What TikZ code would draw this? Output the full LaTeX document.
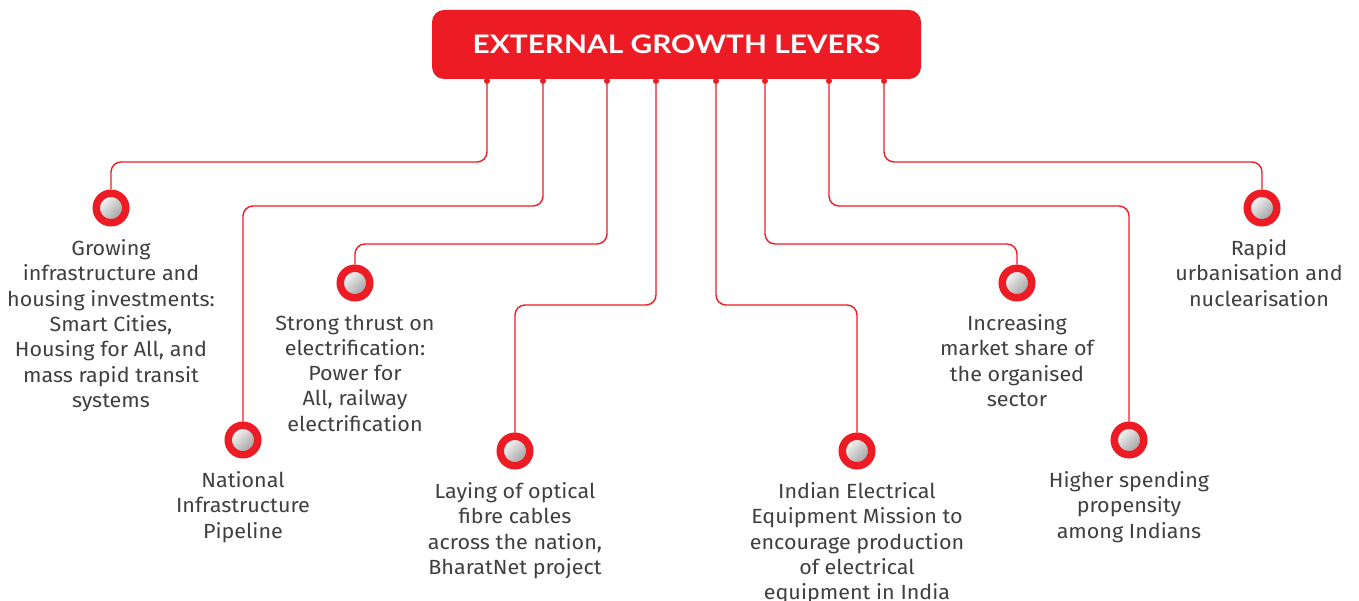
\documentclass[tikz,border=0pt]{standalone}
\usepackage{fontspec}
\setmainfont{Fira Sans}[FakeStretch=1.05]
\newfontfamily\titlefont{Lato}[FakeStretch=1.17]
\usetikzlibrary{positioning}

\definecolor{levred}{HTML}{ED1C24}
\definecolor{levgrey}{HTML}{3F3F3F}

\tikzset{
  lever/.style={circle, draw=levred, line width=7.5pt, minimum size=29.5pt, inner sep=0pt,
    top color=white, bottom color=gray!80, shading angle=45},
  tapdot/.style={circle, fill=levred, minimum size=6pt, inner sep=0pt},
  levtext/.style={align=center, text=levgrey, inner sep=0pt, font=\fontsize{20.5}{25.3}\selectfont},
  wire/.style={draw=levred, line width=1.4pt, rounded corners=10pt}
}

\begin{document}
\begin{tikzpicture}[x=1pt, y=-1pt]
\useasboundingbox (0,0) rectangle (1359,601);

\node[fill=levred, rounded corners=12pt, minimum width=489pt, minimum height=69pt, text=white,
  font=\titlefont\bfseries\fontsize{25.5}{30}\selectfont] (title) at (676.5,44.5) {EXTERNAL GROWTH LEVERS};

% taps on the bottom of the title box
\node[tapdot] (d1) at (487,81) {};
\node[tapdot] (d2) at (543,81) {};
\node[tapdot] (d3) at (607,81) {};
\node[tapdot] (d4) at (656,81) {};
\node[tapdot] (d5) at (716,81) {};
\node[tapdot] (d6) at (765,81) {};
\node[tapdot] (d7) at (829,81) {};
\node[tapdot] (d8) at (884,81) {};

% the levers
\node[lever] (c1) at (111,208) {};
\node[lever] (c2) at (243,440) {};
\node[lever] (c3) at (355,283) {};
\node[lever] (c4) at (515,451) {};
\node[lever] (c5) at (857,451) {};
\node[lever] (c6) at (1017,283) {};
\node[lever] (c7) at (1129,440) {};
\node[lever] (c8) at (1262,208) {};

\node[levtext, below=13pt of c1] (t1) {Growing\\infrastructure and\\housing investments:\\Smart Cities,\\Housing for All, and\\mass rapid transit\\systems};
\node[levtext, below=13pt of c2] (t2) {National\\Infrastructure\\Pipeline};
\node[levtext, below=13pt of c3] (t3) {Strong thrust on\\electrification:\\Power for\\All, railway\\electrification};
\node[levtext, below=13pt of c4] (t4) {Laying of optical\\fibre cables\\across the nation,\\BharatNet project};
\node[levtext, below=13pt of c5] (t5) {Indian Electrical\\Equipment Mission to\\encourage production\\of electrical\\equipment in India};
\node[levtext, below=13pt of c6] (t6) {Increasing\\market share of\\the organised\\sector};
\node[levtext, below=13pt of c7] (t7) {Higher spending\\propensity\\among Indians};
\node[levtext, below=13pt of c8, xshift=-3pt] (t8) {Rapid\\urbanisation and\\nuclearisation};

\draw[wire] (d1) -- ++(0,81) -| (c1);
\draw[wire] (d2) -- ++(0,125) -| (c2);
\draw[wire] (d3) -- ++(0,163) -| (c3);
\draw[wire] (d4) -- ++(0,224) -| (c4);
\draw[wire] (d5) -- ++(0,224) -| (c5);
\draw[wire] (d6) -- ++(0,163) -| (c6);
\draw[wire] (d7) -- ++(0,125) -| (c7);
\draw[wire] (d8) -- ++(0,81) -| (c8);

\end{tikzpicture}
\end{document}
